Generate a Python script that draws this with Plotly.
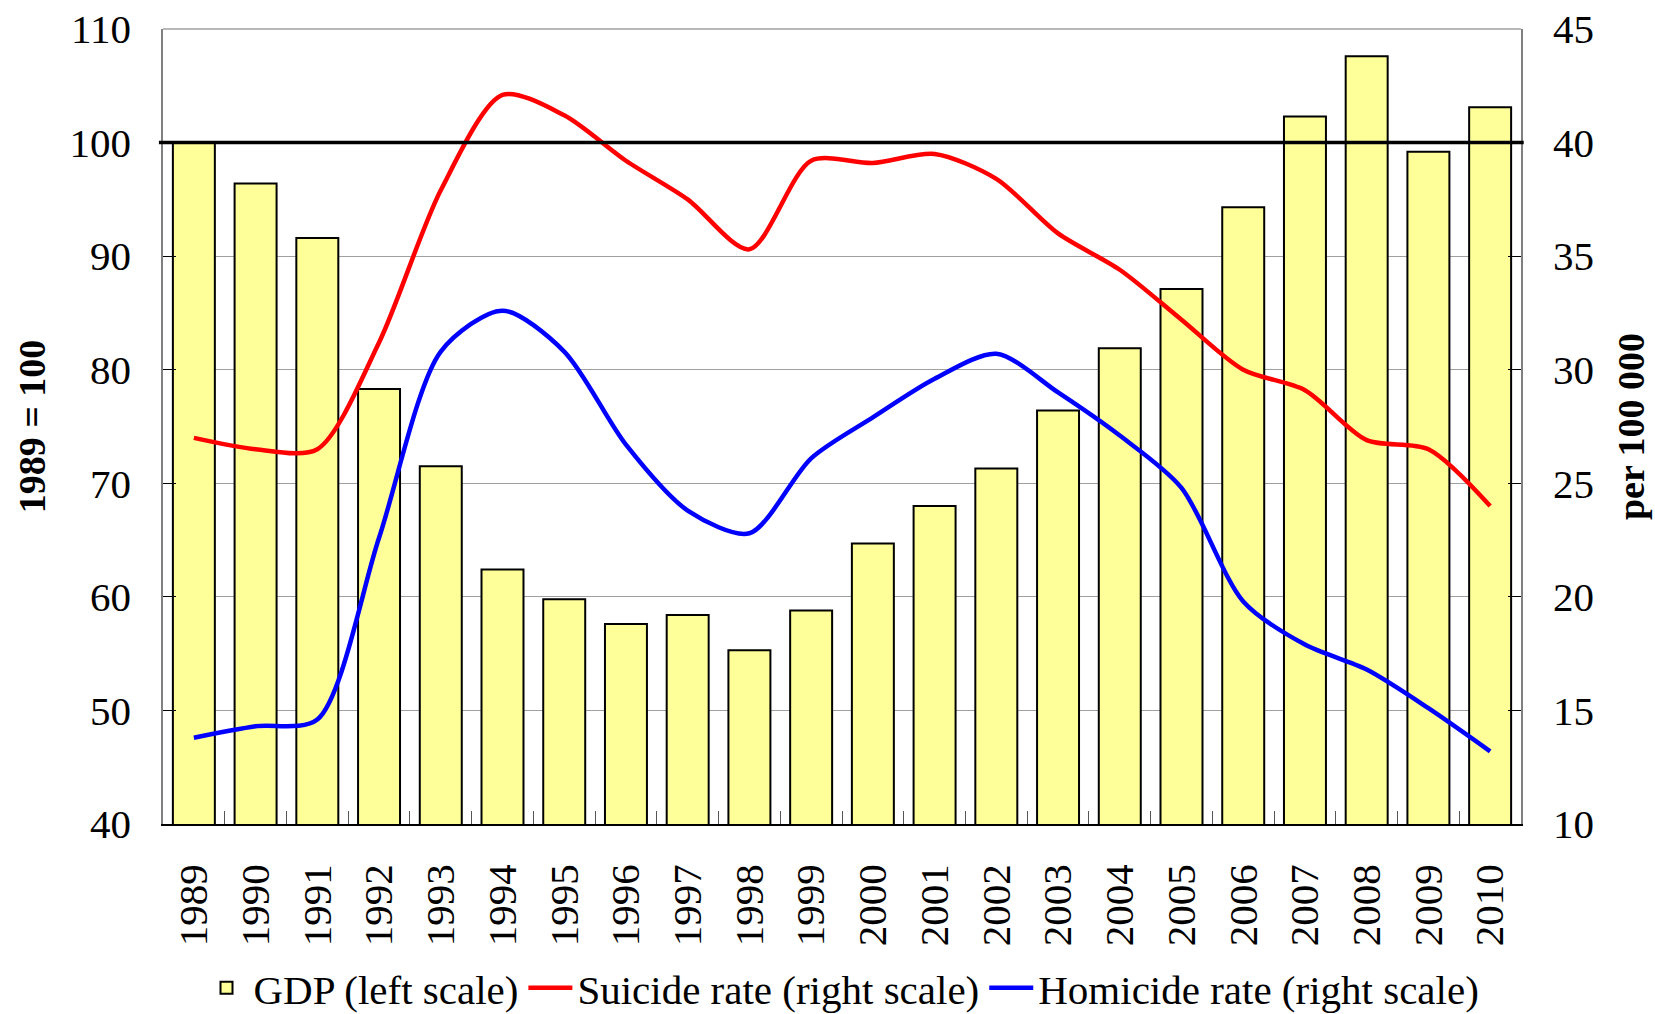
import plotly.graph_objects as go

years = [str(y) for y in range(1989, 2011)]
gdp = [100.0, 96.4, 91.6, 78.3, 71.5, 62.4, 59.8, 57.6, 58.4, 55.3, 58.8,
       64.7, 68.0, 71.3, 76.4, 81.9, 87.1, 94.3, 102.3, 107.6, 99.2, 103.1]
suicide = [27.0, 26.5, 26.5, 31.2, 37.9, 42.1, 41.2, 39.2, 37.5, 35.3, 39.2,
           39.1, 39.5, 38.4, 36.0, 34.4, 32.2, 30.0, 29.1, 26.9, 26.5, 24.0]
homicide = [13.8, 14.3, 14.6, 22.6, 30.8, 32.6, 30.8, 26.7, 23.8, 22.8, 26.1,
            27.9, 29.6, 30.7, 29.0, 27.1, 24.8, 19.8, 17.9, 16.8, 15.1, 13.2]
base_index = 100

left_ticks = [40, 50, 60, 70, 80, 90, 100, 110]
right_ticks = [10, 15, 20, 25, 30, 35, 40, 45]

FONT = "Liberation Serif, Times New Roman, serif"
FS = 41

fig = go.Figure()
fig.add_trace(go.Bar(
    x=years, y=gdp, name="GDP (left scale)",
    marker=dict(color="#FFFF99", line=dict(color="black", width=2)),
    yaxis="y",
))
fig.add_trace(go.Scatter(
    x=years, y=suicide, name="Suicide rate (right scale)", mode="lines",
    line=dict(color="#FF0000", width=4.5, shape="spline", smoothing=0.8),
    yaxis="y2",
))
fig.add_trace(go.Scatter(
    x=years, y=homicide, name="Homicide rate (right scale)", mode="lines",
    line=dict(color="#0000FF", width=4.5, shape="spline", smoothing=0.8),
    yaxis="y2",
))

fig.add_shape(type="line", xref="paper", yref="y", x0=-0.003, x1=1.002,
              y0=base_index, y1=base_index, line=dict(color="black", width=3.5),
              layer="above")

fig.update_layout(
    width=1655, height=1014,
    margin=dict(l=163, r=134, t=29, b=190),
    paper_bgcolor="white", plot_bgcolor="white",
    font=dict(family=FONT, size=FS, color="black"),
    bargap=0.32,
    showlegend=True,
    legend=dict(orientation="h", x=0.5, xanchor="center", xref="paper",
                y=0.0256, yref="container", yanchor="middle",
                font=dict(family=FONT, size=FS), itemwidth=44, tracegroupgap=0,
                bgcolor="rgba(0,0,0,0)"),
    xaxis=dict(
        type="category", tickangle=-90, ticks="inside", ticklen=13, tickson="boundaries",
        tickcolor="#555555", showline=True, linecolor="black", linewidth=1.5,
        showgrid=False, ticklabelstandoff=22, automargin=False, ticklabeloverflow="allow",
        tickfont=dict(family=FONT, size=FS),
    ),
    yaxis=dict(
        range=[40, 110], tickvals=left_ticks, ticks="inside", ticklen=13,
        tickcolor="black", showline=True, linecolor="#808080", linewidth=1.5,
        showgrid=True, gridcolor="#A0A0A0", gridwidth=1, zeroline=False,
        ticklabelstandoff=22, automargin=False, ticklabeloverflow="allow",
        tickfont=dict(family=FONT, size=FS),
        title=dict(text="<b>1989 = 100</b>", font=dict(family=FONT, size=38), standoff=12),
    ),
    yaxis2=dict(
        range=[10, 45], tickvals=right_ticks, overlaying="y", side="right",
        ticks="inside", ticklen=13, tickcolor="black", showline=True,
        linecolor="#808080", linewidth=1.5, showgrid=False, zeroline=False,
        ticklabelstandoff=22, automargin=False, ticklabeloverflow="allow",
        tickfont=dict(family=FONT, size=FS),
        title=dict(text="<b>per 100 000</b>", font=dict(family=FONT, size=38), standoff=24),
    ),
)
fig.add_shape(type="line", xref="paper", yref="paper", x0=0, x1=1, y0=1, y1=1,
              line=dict(color="#A0A0A0", width=1.5), layer="above")

# remove the default page margin so the figure fills the window exactly
fig.write_html("out.html", config={"displayModeBar": False},
               post_script="document.body.style.margin='0px';")
